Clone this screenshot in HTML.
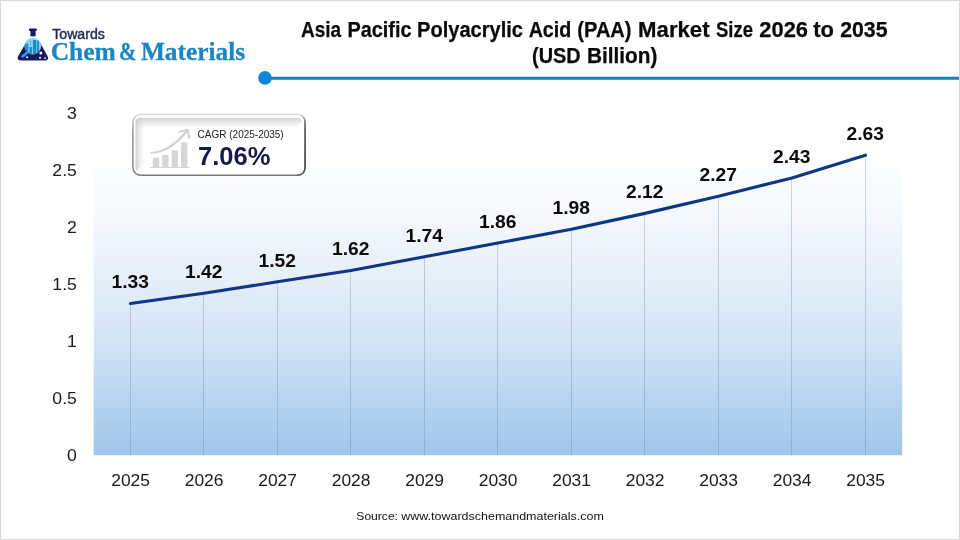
<!DOCTYPE html>
<html lang="en"><head><meta charset="utf-8"><title>Asia Pacific Polyacrylic Acid (PAA) Market Size 2026 to 2035</title>
<style>
html,body{margin:0;padding:0;background:#fff;}
body{width:960px;height:540px;overflow:hidden;position:relative;font-family:"Liberation Sans",sans-serif;}
svg{position:absolute;left:0;top:0;display:block;}
.ax{font-family:"Liberation Sans",sans-serif;font-size:16.7px;fill:#1a1a1a;}
.dl{font-family:"Liberation Sans",sans-serif;font-size:17.6px;font-weight:bold;fill:#0a0a0a;}
</style></head><body>
<svg width="960" height="540" viewBox="0 0 960 540">
<defs>
<linearGradient id="pg" x1="0" y1="0" x2="0" y2="1">
<stop offset="0" stop-color="#ffffff"/>
<stop offset="0.12" stop-color="#fdfeff"/>
<stop offset="0.25" stop-color="#f7fbfe"/>
<stop offset="0.38" stop-color="#eef5fb"/>
<stop offset="0.5" stop-color="#e3eef9"/>
<stop offset="0.68" stop-color="#d1e4f5"/>
<stop offset="0.85" stop-color="#b4d3ef"/>
<stop offset="1" stop-color="#a0c6ec"/>
</linearGradient>
<linearGradient id="bvt" x1="0" y1="0" x2="0" y2="1">
<stop offset="0" stop-color="#bdbdbd" stop-opacity="0.7"/>
<stop offset="0.5" stop-color="#c8c8c8" stop-opacity="0.35"/>
<stop offset="1" stop-color="#d0d0d0" stop-opacity="0"/>
</linearGradient>
<linearGradient id="bvl" x1="0" y1="0" x2="1" y2="0">
<stop offset="0" stop-color="#bdbdbd" stop-opacity="0.7"/>
<stop offset="0.5" stop-color="#c8c8c8" stop-opacity="0.35"/>
<stop offset="1" stop-color="#d0d0d0" stop-opacity="0"/>
</linearGradient>
<linearGradient id="bdv" x1="0" y1="0" x2="0" y2="1">
<stop offset="0" stop-color="#dcdcdc"/>
<stop offset="0.12" stop-color="#b0b0b0"/>
<stop offset="0.3" stop-color="#8a8a8a"/>
<stop offset="1" stop-color="#7a7a7a"/>
</linearGradient>
<linearGradient id="bdr" x1="0" y1="0" x2="0" y2="1">
<stop offset="0" stop-color="#555555" stop-opacity="0"/>
<stop offset="0.15" stop-color="#4a4a4a" stop-opacity="0.8"/>
<stop offset="0.85" stop-color="#444444" stop-opacity="1"/>
<stop offset="1" stop-color="#555555" stop-opacity="0.6"/>
</linearGradient>
</defs>
<rect x="0" y="0" width="960" height="540" fill="#ffffff"/>
<rect x="0.5" y="0.5" width="959" height="539" fill="none" stroke="#d9d9d9" stroke-width="1"/>

<rect x="93.7" y="113.0" width="808.5" height="342.2" fill="url(#pg)"/>
<rect x="130" y="303.49" width="1" height="151.71" fill="#697d96" fill-opacity="0.32"/>
<rect x="203" y="293.23" width="1" height="161.97" fill="#697d96" fill-opacity="0.32"/>
<rect x="277" y="281.82" width="1" height="173.38" fill="#697d96" fill-opacity="0.32"/>
<rect x="350" y="270.41" width="1" height="184.79" fill="#697d96" fill-opacity="0.32"/>
<rect x="424" y="256.72" width="1" height="198.48" fill="#697d96" fill-opacity="0.32"/>
<rect x="497" y="243.04" width="1" height="212.16" fill="#697d96" fill-opacity="0.32"/>
<rect x="571" y="229.35" width="1" height="225.85" fill="#697d96" fill-opacity="0.32"/>
<rect x="644" y="213.38" width="1" height="241.82" fill="#697d96" fill-opacity="0.32"/>
<rect x="718" y="196.27" width="1" height="258.93" fill="#697d96" fill-opacity="0.32"/>
<rect x="791" y="178.02" width="1" height="277.18" fill="#697d96" fill-opacity="0.32"/>
<rect x="865" y="155.20" width="1" height="300.00" fill="#697d96" fill-opacity="0.32"/>
<polyline fill="none" stroke="#0f3685" stroke-width="3.1" stroke-linejoin="round" stroke-linecap="round" points="130.45,303.49 203.95,293.23 277.45,281.82 350.95,270.41 424.45,256.72 497.95,243.04 571.45,229.35 644.95,213.38 718.45,196.27 791.95,178.02 865.45,155.20"/>
<text class="dl" transform="translate(130.15 288.39) scale(1.0943 1)" text-anchor="middle">1.33</text>
<text class="dl" transform="translate(203.65 278.13) scale(1.0943 1)" text-anchor="middle">1.42</text>
<text class="dl" transform="translate(277.15 266.72) scale(1.0943 1)" text-anchor="middle">1.52</text>
<text class="dl" transform="translate(350.65 255.31) scale(1.0943 1)" text-anchor="middle">1.62</text>
<text class="dl" transform="translate(424.15 241.62) scale(1.0943 1)" text-anchor="middle">1.74</text>
<text class="dl" transform="translate(497.65 227.94) scale(1.0943 1)" text-anchor="middle">1.86</text>
<text class="dl" transform="translate(571.15 214.25) scale(1.0943 1)" text-anchor="middle">1.98</text>
<text class="dl" transform="translate(644.65 198.28) scale(1.0943 1)" text-anchor="middle">2.12</text>
<text class="dl" transform="translate(718.15 181.17) scale(1.0943 1)" text-anchor="middle">2.27</text>
<text class="dl" transform="translate(791.65 162.92) scale(1.0943 1)" text-anchor="middle">2.43</text>
<text class="dl" transform="translate(865.15 140.10) scale(1.0943 1)" text-anchor="middle">2.63</text>
<text class="ax" transform="translate(76.9 460.90) scale(1.0572 1)" text-anchor="end">0</text>
<text class="ax" transform="translate(76.9 403.87) scale(1.0572 1)" text-anchor="end">0.5</text>
<text class="ax" transform="translate(76.9 346.83) scale(1.0572 1)" text-anchor="end">1</text>
<text class="ax" transform="translate(76.9 289.80) scale(1.0572 1)" text-anchor="end">1.5</text>
<text class="ax" transform="translate(76.9 232.77) scale(1.0572 1)" text-anchor="end">2</text>
<text class="ax" transform="translate(76.9 175.73) scale(1.0572 1)" text-anchor="end">2.5</text>
<text class="ax" transform="translate(76.9 118.70) scale(1.0572 1)" text-anchor="end">3</text>
<text class="ax" transform="translate(130.60 485.9) scale(1.0451 1)" text-anchor="middle">2025</text>
<text class="ax" transform="translate(204.10 485.9) scale(1.0451 1)" text-anchor="middle">2026</text>
<text class="ax" transform="translate(277.60 485.9) scale(1.0451 1)" text-anchor="middle">2027</text>
<text class="ax" transform="translate(351.10 485.9) scale(1.0451 1)" text-anchor="middle">2028</text>
<text class="ax" transform="translate(424.60 485.9) scale(1.0451 1)" text-anchor="middle">2029</text>
<text class="ax" transform="translate(498.10 485.9) scale(1.0451 1)" text-anchor="middle">2030</text>
<text class="ax" transform="translate(571.60 485.9) scale(1.0451 1)" text-anchor="middle">2031</text>
<text class="ax" transform="translate(645.10 485.9) scale(1.0451 1)" text-anchor="middle">2032</text>
<text class="ax" transform="translate(718.60 485.9) scale(1.0451 1)" text-anchor="middle">2033</text>
<text class="ax" transform="translate(792.10 485.9) scale(1.0451 1)" text-anchor="middle">2034</text>
<text class="ax" transform="translate(865.60 485.9) scale(1.0451 1)" text-anchor="middle">2035</text>
<line x1="265" y1="78.3" x2="959" y2="78.3" stroke="#1b7cc0" stroke-width="3"/>
<circle cx="265" cy="77.9" r="6.8" fill="#0f86d6"/>
<g id="logo">
<rect x="28.9" y="28.5" width="7.9" height="2.4" rx="0.9" fill="#151b5b"/>
<rect x="30.4" y="30.6" width="5.2" height="5.7" fill="#151b5b"/>
<path d="M25.6 43.2 L40.4 43.2 L47.2 55.4 Q50 60.4 44.4 60.4 L21.4 60.4 Q15.8 60.4 18.6 55.4 Z" fill="#151b5b"/>
<circle cx="32.8" cy="46.2" r="8.3" fill="#8ad5f7"/>
<g fill="#1f8bcb">
<path d="M25.2 43.6 H28.2 V53 Q26.4 51.8 25.2 49.8 Z"/>
<path d="M29.4 47.1 H31.9 V54.4 Q30.6 54.3 29.4 53.8 Z"/>
<path d="M32.9 39.9 H36.3 V53.7 Q34.6 54.4 32.9 54.5 Z"/>
<path d="M37.1 40.1 Q38.2 40.7 39 41.6 V51.8 Q38.2 52.6 37.1 53.3 Z"/>
<rect x="30" y="41.4" width="1" height="1"/>
<rect x="30" y="43.6" width="1" height="1"/>
</g>
<line x1="27.2" y1="52.7" x2="22.6" y2="56.4" stroke="#3f93e2" stroke-width="2.7" stroke-linecap="round"/>
<circle cx="40.8" cy="53.1" r="1.5" fill="#ffffff"/>
<circle cx="27.1" cy="57.3" r="1.0" fill="#ffffff"/>
<circle cx="40" cy="57.7" r="1.0" fill="#ffffff"/>
<circle cx="45" cy="58.1" r="0.9" fill="#ffffff"/>
</g>

<g id="cagr">
<rect x="132.9" y="114.3" width="172.2" height="61" rx="8" fill="#ffffff"/>
<path d="M135.3 117.5 H297.5 Q302 117.5 302 121.5 L296 128 H135.3 Z" fill="url(#bvt)"/>
<path d="M135.3 117.5 H144.5 V163.5 L135.3 172.8 Z" fill="url(#bvl)"/>
<rect x="134.3" y="116.5" width="169" height="57" rx="6" fill="none" stroke="#ffffff" stroke-width="2"/>
<rect x="132.9" y="114.3" width="172.2" height="61" rx="8" fill="none" stroke="url(#bdv)" stroke-width="1.4"/>
<path d="M297.1 114.3 Q305.1 114.3 305.1 122.3 V167.3 Q305.1 175.3 297.1 175.3" fill="none" stroke="url(#bdr)" stroke-width="1.5"/>
<g fill="#d6d6d6">
<rect x="152.8" y="157.8" width="6.5" height="9.7"/>
<rect x="162.3" y="155" width="6.3" height="12.5"/>
<rect x="171.7" y="150.4" width="6.2" height="17.1"/>
<rect x="181" y="142.3" width="6.5" height="25.2"/>
<rect x="150" y="167" width="39.8" height="1"/>
</g>
<path d="M150.4 152.6 Q169.3 151.6 185.9 130.6 L187.5 131.8 Q170 153.4 150.5 153.6 Z" fill="#cecece" stroke="#cecece" stroke-width="0.5" stroke-linejoin="round"/>
<path d="M179.4 131.9 L187.6 129.7 L189.3 137.7" fill="none" stroke="#cecece" stroke-width="1.9" stroke-linecap="round" stroke-linejoin="round"/>
</g>

<text style="font-family:'Liberation Sans',sans-serif;font-size:21.6px;font-weight:bold;fill:#0a0a0a;stroke:#0a0a0a;stroke-width:0.25px"><tspan x="301.00" y="36.5" textLength="40.18" lengthAdjust="spacingAndGlyphs">Asia</tspan> <tspan x="347.46" y="36.5" textLength="64.04" lengthAdjust="spacingAndGlyphs">Pacific</tspan> <tspan x="417.05" y="36.5" textLength="105.95" lengthAdjust="spacingAndGlyphs">Polyacrylic</tspan> <tspan x="528.69" y="36.5" textLength="42.56" lengthAdjust="spacingAndGlyphs">Acid</tspan> <tspan x="577.36" y="36.5" textLength="54.16" lengthAdjust="spacingAndGlyphs">(PAA)</tspan> <tspan x="638.11" y="36.5" textLength="71.49" lengthAdjust="spacingAndGlyphs">Market</tspan> <tspan x="716.01" y="36.5" textLength="36.95" lengthAdjust="spacingAndGlyphs">Size</tspan> <tspan x="759.32" y="36.5" textLength="48.73" lengthAdjust="spacingAndGlyphs">2026</tspan> <tspan x="813.30" y="36.5" textLength="20.72" lengthAdjust="spacingAndGlyphs">to</tspan> <tspan x="840.13" y="36.5" textLength="47.40" lengthAdjust="spacingAndGlyphs">2035</tspan> <tspan x="532.07" y="62.9" textLength="48.62" lengthAdjust="spacingAndGlyphs">(USD</tspan> <tspan x="587.00" y="62.9" textLength="70.45" lengthAdjust="spacingAndGlyphs">Billion)</tspan></text>
<text style="font-family:'Liberation Sans',sans-serif;font-size:15.1px;font-weight:normal;fill:#1f285c;stroke:#1f285c;stroke-width:0.45px"><tspan x="52.28" y="38.5" textLength="52.56" lengthAdjust="spacingAndGlyphs">Towards</tspan></text>
<text style="font-family:'Liberation Serif',serif;font-size:25.8px;font-weight:bold;fill:#1a86c8;stroke:#1a86c8;stroke-width:0.3px"><tspan x="50.71" y="59.6" textLength="65.02" lengthAdjust="spacingAndGlyphs">Chem</tspan> <tspan x="119.03" y="59.6" textLength="17.33" lengthAdjust="spacingAndGlyphs">&amp;</tspan> <tspan x="140.90" y="59.6" textLength="104.21" lengthAdjust="spacingAndGlyphs">Materials</tspan></text>
<text style="font-family:'Liberation Sans',sans-serif;font-size:10.1px;font-weight:normal;fill:#222222"><tspan x="197.61" y="138.1" textLength="86.10" lengthAdjust="spacingAndGlyphs">CAGR (2025-2035)</tspan></text>
<text style="font-family:'Liberation Sans',sans-serif;font-size:25.2px;font-weight:bold;fill:#171a4a"><tspan x="197.95" y="164.75" textLength="72.41" lengthAdjust="spacingAndGlyphs">7.06%</tspan></text>
<text style="font-family:'Liberation Sans',sans-serif;font-size:11.4px;font-weight:normal;fill:#111111"><tspan x="356.37" y="520.0" textLength="41.61" lengthAdjust="spacingAndGlyphs">Source:</tspan> <tspan x="401.25" y="520.0" textLength="202.56" lengthAdjust="spacingAndGlyphs">www.towardschemandmaterials.com</tspan></text>
</svg></body></html>
